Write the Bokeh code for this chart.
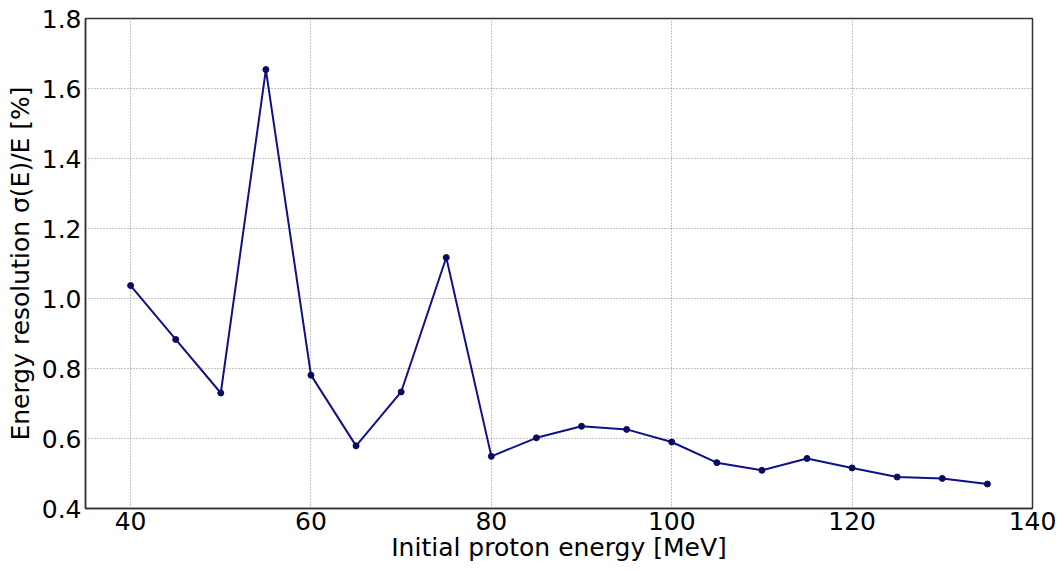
from bokeh.plotting import figure
from bokeh.models import Range1d, FixedTicker, NumeralTickFormatter
from bokeh.embed import file_html
from bokeh.resources import INLINE

# Initial proton energy [MeV] and relative energy resolution [%]
energy_mev = [40, 45, 50, 55, 60, 65, 70, 75, 80, 85, 90, 95, 100,
              105, 110, 115, 120, 125, 130, 135]
resolution_pct = [1.037, 0.883, 0.730, 1.654, 0.781, 0.579, 0.733, 1.117,
                  0.549, 0.602, 0.635, 0.626, 0.590, 0.531, 0.509, 0.543,
                  0.516, 0.490, 0.486, 0.470]

x_ticks = [40, 60, 80, 100, 120, 140]
y_ticks = [0.4, 0.6, 0.8, 1.0, 1.2, 1.4, 1.6, 1.8]

p = figure(width=1064, height=571, output_backend="svg", toolbar_location=None,
           x_range=Range1d(35, 140), y_range=Range1d(0.4, 1.8),
           min_border_left=85, min_border_right=32,
           min_border_top=18, min_border_bottom=63)

p.line(energy_mev, resolution_pct, line_color="#10108a", line_width=2)
p.scatter(energy_mev, resolution_pct, size=6, fill_color="#0a0a5e",
          line_color="#0a0a5e")

FONT = "DejaVu Sans"
p.xaxis.ticker = FixedTicker(ticks=x_ticks)
p.yaxis.ticker = FixedTicker(ticks=y_ticks)
p.yaxis.formatter = NumeralTickFormatter(format="0.0")
p.xaxis.axis_label = "Initial proton energy [MeV]"
p.yaxis.axis_label = "Energy resolution σ(E)/E [%]"

for ax in (p.xaxis, p.yaxis):
    ax.axis_label_text_font = FONT
    ax.axis_label_text_font_size = "25px"
    ax.axis_label_text_font_style = "normal"
    ax.axis_label_text_color = "black"
    ax.major_label_text_font = FONT
    ax.major_label_text_font_size = "25px"
    ax.major_label_text_color = "black"
    ax.major_tick_in = 0
    ax.major_tick_out = 0
    ax.minor_tick_in = 0
    ax.minor_tick_out = 0
    ax.axis_line_color = "#333333"
    ax.axis_line_width = 1.5

p.xaxis.major_label_standoff = 3
p.xaxis.axis_label_standoff = 0
p.yaxis.major_label_standoff = 4
p.yaxis.axis_label_standoff = 4

p.xgrid.grid_line_color = "#888888"
p.ygrid.grid_line_color = "#888888"
p.xgrid.grid_line_dash = "1 2"
p.ygrid.grid_line_dash = "1 2"
p.xgrid.grid_line_width = 1
p.ygrid.grid_line_width = 1

p.outline_line_color = "#333333"
p.outline_line_width = 1.5
p.background_fill_color = "white"
p.border_fill_color = "white"

open("out.html", "w").write(file_html(p, INLINE))
